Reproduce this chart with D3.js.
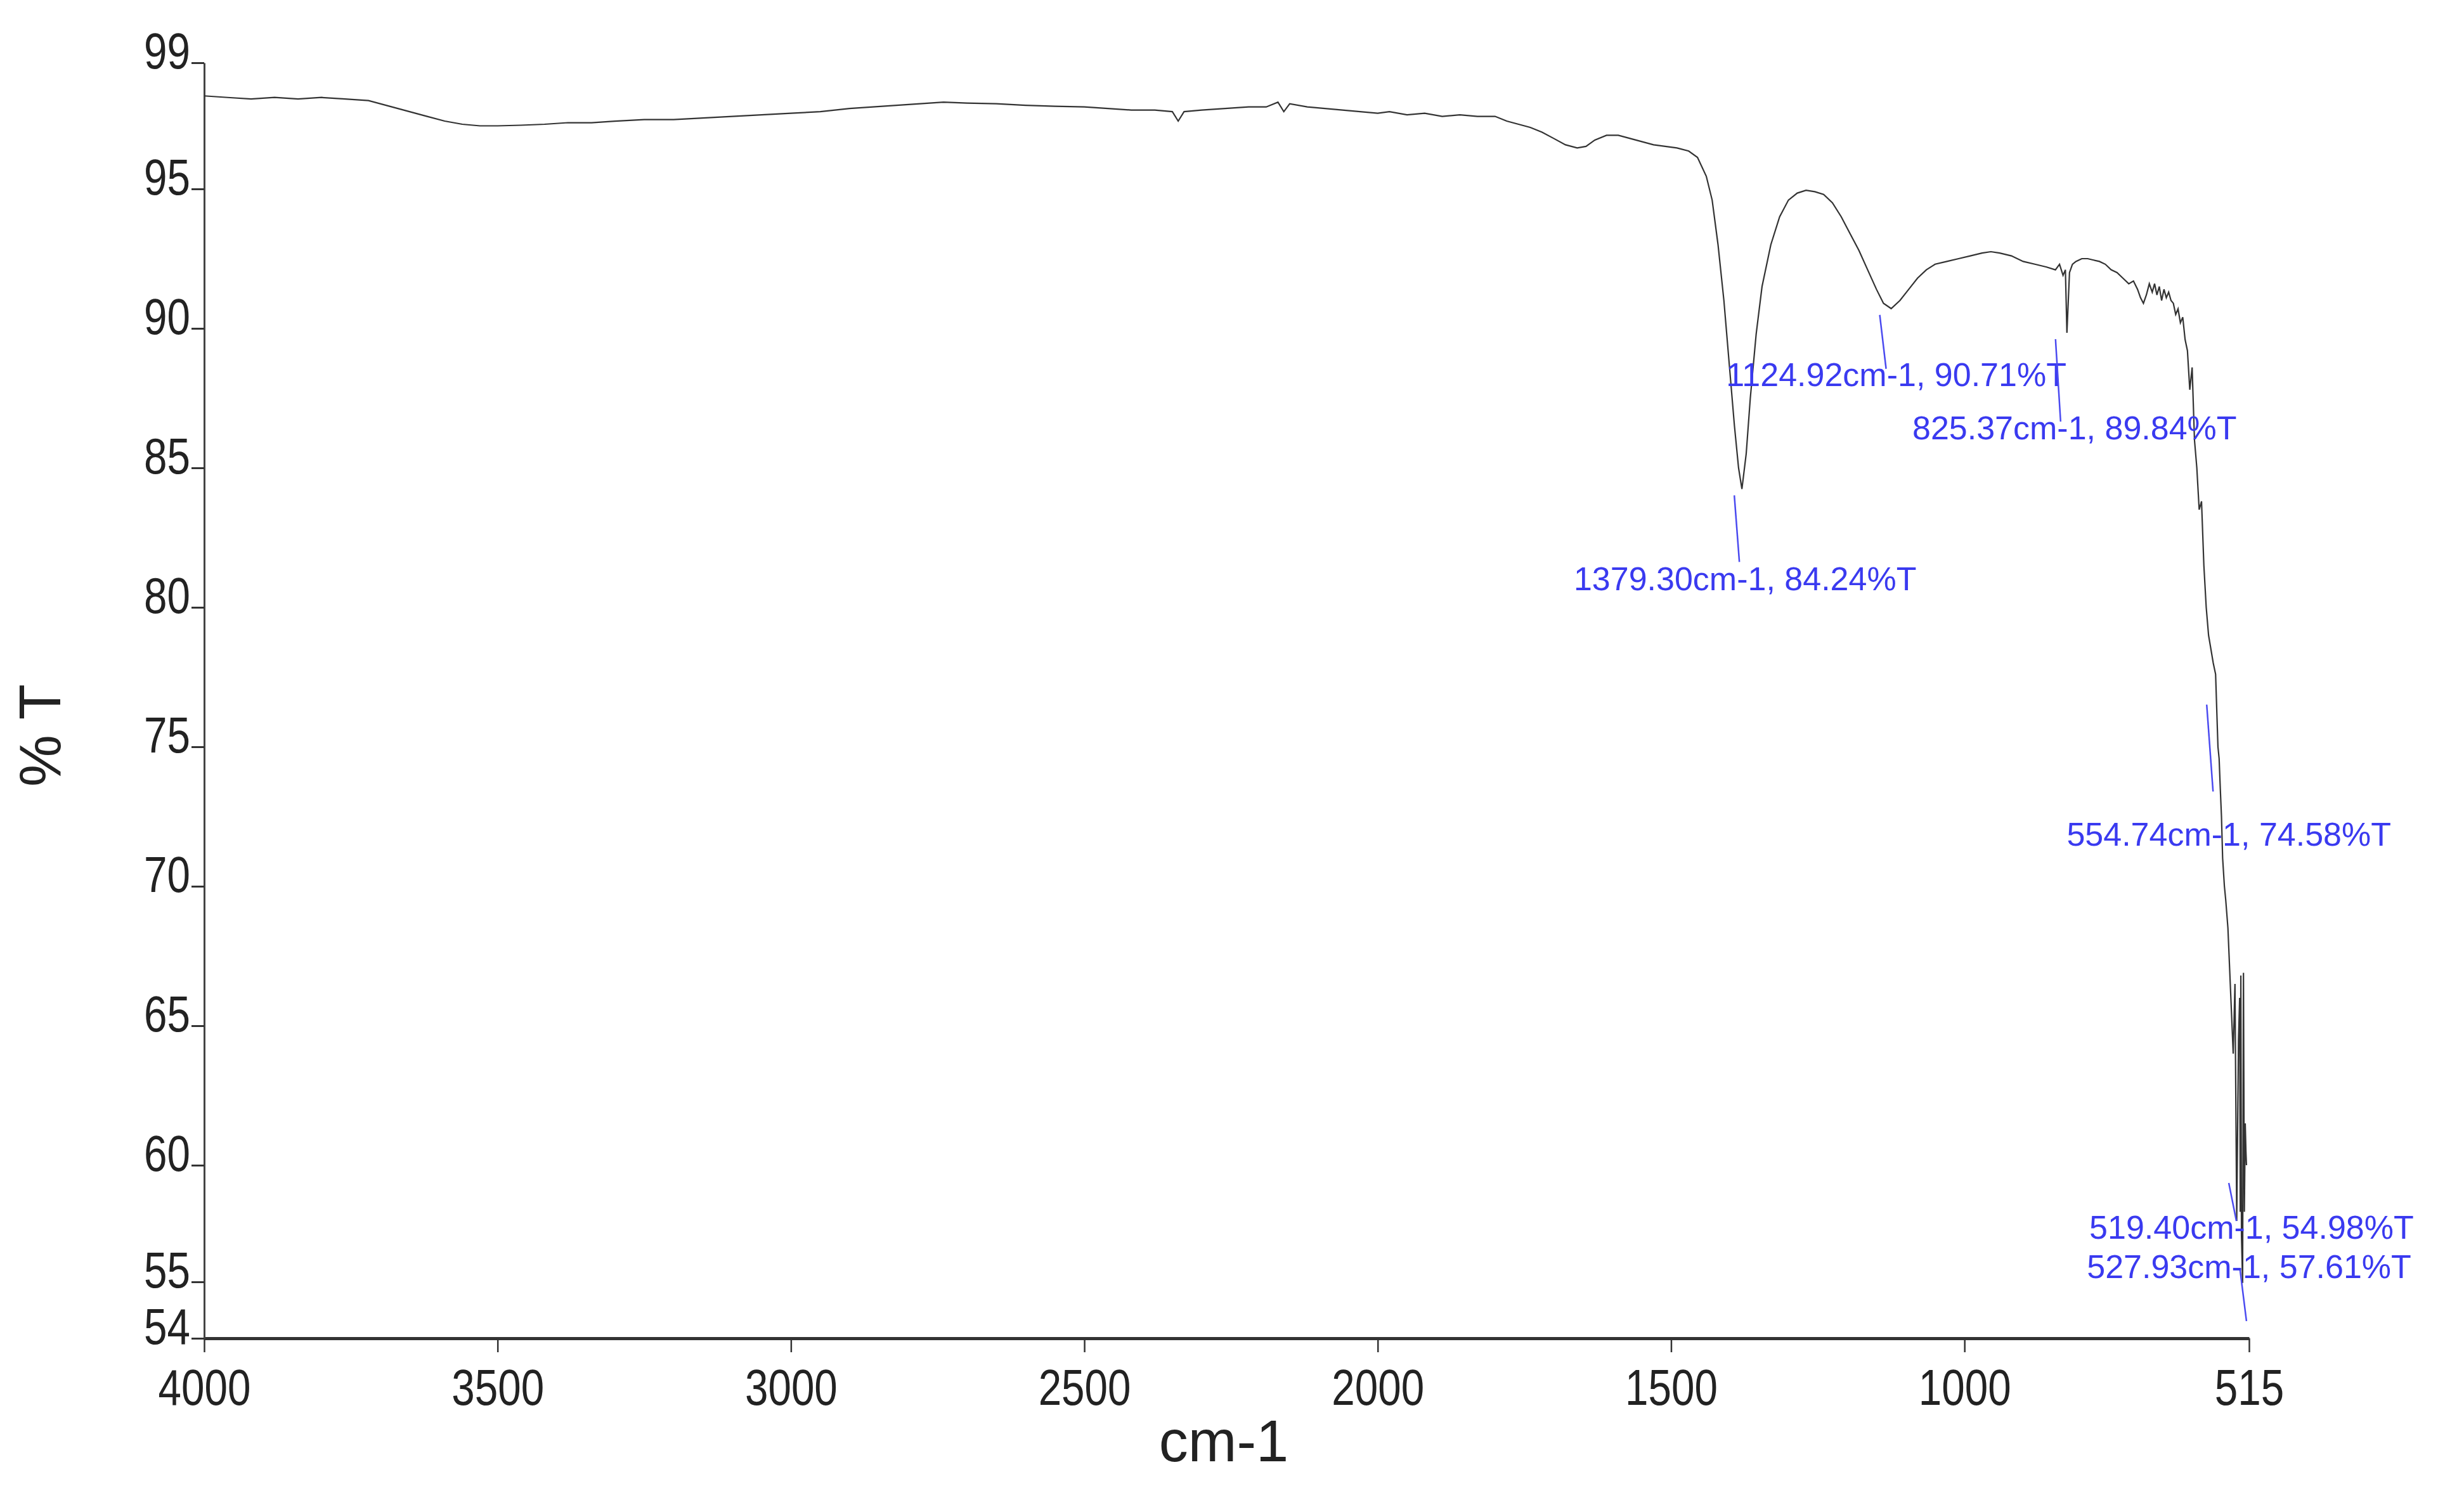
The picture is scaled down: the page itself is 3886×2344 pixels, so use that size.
<!DOCTYPE html>
<html><head><meta charset="utf-8">
<script src="https://cdn.jsdelivr.net/npm/d3@7"></script>
<style>body{margin:0;background:#fff}</style></head>
<body><svg id="c" width="3886" height="2344"></svg>
<script>
const wavenumbers = [4000,3960,3920,3880,3840,3800,3760,3720,3680,3650,3620,3590,3560,3530,3500,3460,3420,3380,3340,3300,3250,3200,3150,3100,3050,3000,2950,2900,2860,2820,2780,2740,2700,2650,2600,2550,2500,2460,2420,2380,2350,2340,2330,2300,2260,2220,2190,2170,2160,2150,2120,2090,2060,2030,2000,1980,1950,1920,1890,1860,1830,1800,1780,1760,1740,1720,1700,1680,1660,1645,1630,1610,1590,1570,1550,1530,1510,1490,1470,1455,1440,1430,1420,1410,1400,1392,1385,1379.3,1372,1365,1355,1345,1330,1315,1300,1285,1270,1255,1240,1225,1210,1195,1180,1165,1150,1138,1124.9,1110,1095,1080,1065,1050,1030,1010,990,970,955,940,920,900,880,860,845,838,832,828,825.4,821,816,810,800,790,780,770,760,750,740,730,720,712,705,700,695,690,685,680,676,672,668,664,660,656,652,648,644,640,636,632,628,624,620,616,612,608,604,600,596,592,588,584,580,576,572,568,566,564,562,560,557,554.7,551,548,545,542,539,536,533,531,530,529,527.9,526,524.5,523,521.5,520.3,519.4,518.5,517.5,516.5,515.5,515];
const transmittance = [97.95,97.9,97.85,97.9,97.85,97.9,97.85,97.8,97.6,97.45,97.3,97.15,97.05,97.0,97.0,97.02,97.05,97.1,97.1,97.15,97.2,97.2,97.25,97.3,97.35,97.4,97.45,97.55,97.6,97.65,97.7,97.75,97.72,97.7,97.65,97.62,97.6,97.55,97.5,97.5,97.45,97.15,97.45,97.5,97.55,97.6,97.6,97.75,97.45,97.7,97.6,97.55,97.5,97.45,97.4,97.45,97.35,97.4,97.3,97.35,97.3,97.3,97.15,97.05,96.95,96.8,96.6,96.4,96.3,96.35,96.55,96.7,96.7,96.6,96.5,96.4,96.35,96.3,96.2,96.0,95.4,94.6,93.0,91.0,88.5,86.5,85.0,84.24,85.5,87.5,89.8,91.5,93.0,94.0,94.6,94.85,94.95,94.9,94.8,94.5,94.0,93.4,92.8,92.1,91.4,90.9,90.71,91.0,91.4,91.8,92.1,92.3,92.4,92.5,92.6,92.7,92.75,92.7,92.6,92.4,92.3,92.2,92.1,92.3,91.9,92.1,89.84,92.0,92.3,92.4,92.5,92.5,92.45,92.4,92.3,92.1,92.0,91.8,91.6,91.7,91.4,91.1,90.9,91.2,91.6,91.3,91.6,91.2,91.5,91.0,91.4,91.1,91.3,91.0,90.9,90.5,90.7,90.2,90.4,89.6,89.2,87.8,88.6,86.0,85.0,83.5,83.8,81.5,80.0,79.0,78.5,78.0,77.6,75.0,74.58,73.5,72.5,71.0,70.0,69.5,68.5,67.0,65.5,64.0,66.5,57.61,64.5,66.0,58.0,66.8,57.0,54.98,66.9,58.0,61.5,60.5,60.0];
const xTicks = [4000,3500,3000,2500,2000,1500,1000,515];
const yTicks = [99,95,90,85,80,75,70,65,60,55,54];
const peakWn = [1379.30,1124.92,825.37,554.74,519.40,527.93];
const peakT = [84.24,90.71,89.84,74.58,54.98,57.61];
const peakLabels = ["1379.30cm-1, 84.24%T","1124.92cm-1, 90.71%T","825.37cm-1, 89.84%T","554.74cm-1, 74.58%T","519.40cm-1, 54.98%T","527.93cm-1, 57.61%T"];

const svg = d3.select("#c");
const x = d3.scaleLinear().domain([4000,515]).range([322,3547]);
const y = d3.scaleLinear().domain([54,55,60,95,99]).range([2111,2022,1838,298,99]);
const tickFont = "'Liberation Sans',Arial,sans-serif";

function narrow(sel, sx){ sel.each(function(){ const t=d3.select(this); const xx=+t.attr("x")||0; t.attr("transform","scale("+sx+",1)").attr("x",xx/sx); }); }

const xa = svg.append("g").attr("transform","translate(0,"+y(54)+")")
  .call(d3.axisBottom(x).tickValues(xTicks).tickFormat(d3.format("d")).tickSize(22).tickSizeOuter(0));
xa.select(".domain").attr("stroke","#333").attr("stroke-width",5);
xa.selectAll(".tick line").attr("stroke","#333").attr("stroke-width",2.5);
xa.selectAll("text").attr("font-family",tickFont).attr("font-size",80).attr("fill","#222").attr("dy","1.0em");
narrow(xa.selectAll("text"),0.82);

const ya = svg.append("g").attr("transform","translate("+x(4000)+",0)")
  .call(d3.axisLeft(y).tickValues(yTicks).tickFormat(d3.format("d")).tickSize(20).tickSizeOuter(0));
ya.select(".domain").attr("stroke","#444").attr("stroke-width",3);
ya.selectAll(".tick line").attr("stroke","#333").attr("stroke-width",3);
ya.selectAll("text").attr("font-family",tickFont).attr("font-size",80).attr("fill","#222").attr("x",-22).attr("dy","0.1em");
narrow(ya.selectAll("text"),0.82);

svg.append("text").attr("transform","translate(95,1160) rotate(-90)").attr("text-anchor","middle")
  .attr("font-family",tickFont).attr("font-size",92).attr("fill","#222").text("% T");
svg.append("text").attr("x",1930).attr("y",2305).attr("text-anchor","middle")
  .attr("font-family",tickFont).attr("font-size",92).attr("fill","#222").text("cm-1");

const pts = wavenumbers.map((w,i)=>[w,transmittance[i]]);
svg.append("path").datum(pts).attr("fill","none").attr("stroke","#333").attr("stroke-width",2.2)
  .attr("d",d3.line().x(d=>x(d[0])).y(d=>y(d[1])));

const lineOff = [[-12,10,-4,115],[-18,10,-8,95],[-18,10,-10,140],[-30,-85,-20,52],[-10,-20,0,60],[-20,-60,-8,0]];
const labOff = [[5,160],[8,122],[12,168],[5,138],[8,-70],[12,90]];
const ann = svg.append("g").attr("font-family","'Liberation Sans',Arial,sans-serif").attr("font-size",52).attr("fill","#3a3af0");
peakWn.forEach((w,i)=>{
  const px=x(w), py=y(peakT[i]);
  const o=lineOff[i];
  ann.append("line").attr("x1",px+o[0]).attr("y1",py+o[1]).attr("x2",px+o[2]).attr("y2",py+o[3])
    .attr("stroke","#4a4af0").attr("stroke-width",2.5);
  ann.append("text").attr("x",px+labOff[i][0]).attr("y",py+labOff[i][1]).attr("text-anchor","middle").text(peakLabels[i]);
});
</script></body></html>
